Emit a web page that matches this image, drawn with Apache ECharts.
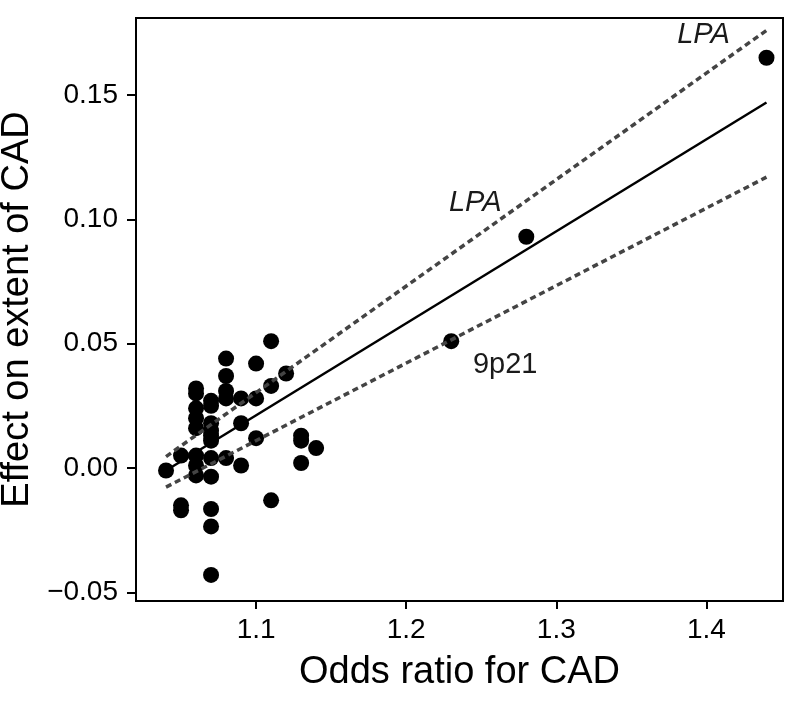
<!DOCTYPE html>
<html>
<head>
<meta charset="utf-8">
<script src="https://cdn.jsdelivr.net/npm/echarts@6/dist/echarts.min.js"></script>
<style>
html,body{margin:0;padding:0;background:#fff;}
#chart{width:800px;height:703px;}
</style>
</head>
<body>
<div id="chart"></div>
<script>
// Odds ratio for CAD (x) and effect on extent of CAD (y), one entry per locus
var oddsRatio = [
  1.04,
  1.05, 1.05, 1.05,
  1.06, 1.06, 1.06, 1.06, 1.06, 1.06, 1.06, 1.06,
  1.07, 1.07, 1.07, 1.07, 1.07, 1.07, 1.07, 1.07, 1.07, 1.07, 1.07,
  1.08, 1.08, 1.08, 1.08, 1.08,
  1.09, 1.09, 1.09,
  1.10, 1.10, 1.10,
  1.11, 1.11, 1.11,
  1.12,
  1.13, 1.13, 1.13,
  1.14,
  1.23, 1.28, 1.44
];
var effect = [
  -0.001,
  0.005, -0.015, -0.017,
  0.032, 0.030, 0.024, 0.020, 0.016, 0.005, 0.001, -0.003,
  0.027, 0.025, 0.018, 0.015, 0.013, 0.011, 0.004, -0.0035, -0.0165, -0.0235, -0.043,
  0.044, 0.037, 0.031, 0.028, 0.004,
  0.028, 0.018, 0.001,
  0.042, 0.028, 0.012,
  0.051, 0.033, -0.013,
  0.038,
  0.013, 0.011, 0.002,
  0.008,
  0.051, 0.093, 0.165
];
// annotated loci (index into the arrays above)
var annotIndex = [42, 43, 44];
var annotText = ['9p21', 'LPA', 'LPA'];

// fitted line and its bounds
var fitX = [1.04, 1.44];
var fitY = [-0.001, 0.147];
var upperY = [0.0046, 0.176];
var lowerY = [-0.0077, 0.117];

var xTicks = [1.1, 1.2, 1.3, 1.4];
var yTicks = [-0.05, 0.00, 0.05, 0.10, 0.15];

var FONT = "'Liberation Sans', Arial, Helvetica, sans-serif";

var annotStyle = [
  {offset: [54, 24], fontStyle: 'normal'},
  {offset: [-51, -34], fontStyle: 'italic'},
  {offset: [-63, -23], fontStyle: 'italic'}
];

var points = oddsRatio.map(function (x, i) {
  var item = {value: [x, effect[i]]};
  var k = annotIndex.indexOf(i);
  if (k >= 0) {
    item.label = {
      show: true,
      formatter: annotText[k],
      position: 'inside',
      offset: annotStyle[k].offset,
      fontStyle: annotStyle[k].fontStyle,
      fontSize: 29,
      fontFamily: FONT,
      color: '#1a1a1a'
    };
  }
  return item;
});

function pairs(xs, ys) { return xs.map(function (x, i) { return [x, ys[i]]; }); }

var chart = echarts.init(document.getElementById('chart'), null, {renderer: 'canvas'});
chart.setOption({
  animation: false,
  backgroundColor: '#fff',
  grid: {left: 136, right: 17, top: 18, bottom: 102, containLabel: false, outerBoundsMode: 'none',
    show: true, borderColor: '#000', borderWidth: 2, backgroundColor: 'transparent'},
  xAxis: {
    type: 'value', min: 1.02, max: 1.451,
    name: 'Odds ratio for CAD', nameLocation: 'middle', nameGap: 72,
    nameTextStyle: {fontSize: 38, fontFamily: FONT, color: '#000', verticalAlign: 'middle'},
    axisLine: {show: true, onZero: false, lineStyle: {color: '#000', width: 2}},
    axisTick: {show: true, length: 8, lineStyle: {color: '#000', width: 2}, customValues: xTicks},
    axisLabel: {customValues: xTicks, margin: 15, fontSize: 28, fontFamily: FONT, color: '#000',
      formatter: function (v) { return v.toFixed(1); }},
    splitLine: {show: false}
  },
  yAxis: {
    type: 'value', min: -0.0535, max: 0.181,
    name: 'Effect on extent of CAD', nameLocation: 'middle', nameGap: 114,
    nameTextStyle: {fontSize: 38, fontFamily: FONT, color: '#000', verticalAlign: 'middle'},
    axisLine: {show: true, onZero: false, lineStyle: {color: '#000', width: 2}},
    axisTick: {show: true, length: 9, lineStyle: {color: '#000', width: 2}, customValues: yTicks},
    axisLabel: {customValues: yTicks, margin: 18, fontSize: 28, fontFamily: FONT, color: '#000',
      formatter: function (v) { return (v < -1e-9 ? '\u2212' : '') + Math.abs(v).toFixed(2); }},
    splitLine: {show: false}
  },
  series: [
    {type: 'scatter', data: points, symbol: 'circle', symbolSize: 16, itemStyle: {color: '#000', opacity: 1}, z: 2},
    {type: 'line', data: pairs(fitX, fitY), symbol: 'none', lineStyle: {color: '#000', width: 2.5}, z: 3},
    {type: 'line', data: pairs(fitX, upperY), symbol: 'none', lineStyle: {color: '#444', width: 3.5, type: [6, 4]}, z: 3},
    {type: 'line', data: pairs(fitX, lowerY), symbol: 'none', lineStyle: {color: '#444', width: 3.5, type: [6, 4]}, z: 3}
  ]
});
</script>
</body>
</html>
